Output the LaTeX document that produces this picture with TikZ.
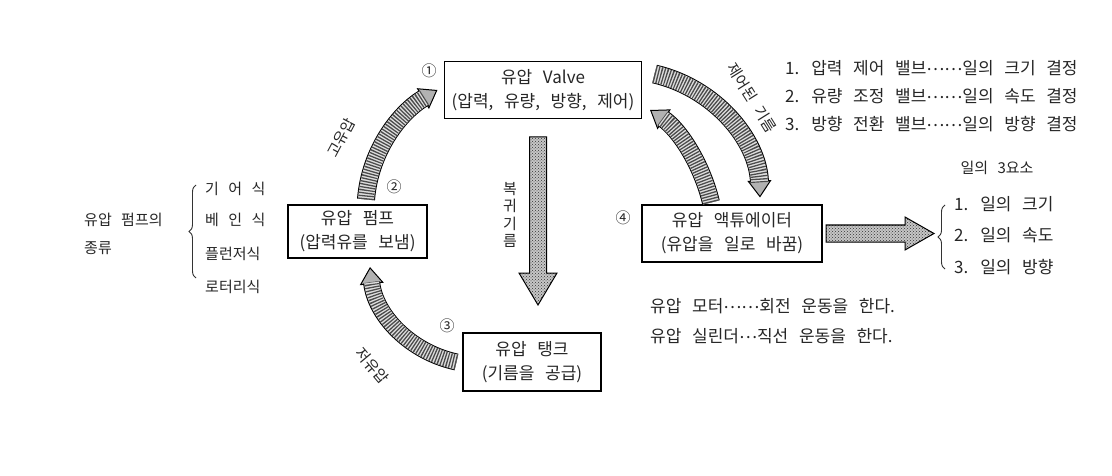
\documentclass[tikz,border=0pt]{standalone}
\usepackage{fontspec}
\newfontfamily\kr[WordSpace=2.8]{Noto Sans CJK KR}
\usetikzlibrary{arrows.meta,patterns,decorations.pathreplacing}

\newcommand\hatcharrow[3]{%
  \draw[line width=0.6pt, -{Triangle[length=17pt,width=#2pt,fill=gray!60,line width=1pt]}] #3;
  \draw[line width=#1pt+2pt, shorten >=15.5pt] #3;
  \draw[line width=#1pt, gray!25, shorten >=15pt] #3;
  \draw[line width=#1pt, black!70, dash pattern=on 1.3pt off 1.5pt, shorten >=15pt] #3;
}
\newcommand\mdots[1]{\raisebox{4pt}{#1}}

\begin{document}
\begin{tikzpicture}[x=1pt,y=-1pt,
  every node/.style={font=\kr\fontsize{15}{18}\selectfont, text=black!85, inner sep=0pt},
  big/.style={font=\kr\fontsize{17}{18}\selectfont},
  box/.style={draw=black, line width=1.1pt, align=center, font=\kr\fontsize{17}{24}\selectfont},
  lab/.style={anchor=west},
  brc/.style={decorate, decoration={brace, amplitude=7pt}, line width=0.9pt, black!80},
  blockarrow/.style={draw=black, line width=1pt, preaction={fill=gray!45}, pattern=crosshatch dots, pattern color=black!80}]

\path[fill=white] (0,0) rectangle (1112,476);
\useasboundingbox (0,0) rectangle (1112,476);

% boxes
\node[box, minimum width=197pt, minimum height=57pt] (valve) at (543,90) {유압 Valve\\(압력, 유량, 방향, 제어)};
\node[box, minimum width=139pt, minimum height=53pt] (pump) at (357.5,231.5) {유압 펌프\\(압력유를 보냄)};
\node[box, minimum width=138pt, minimum height=58pt] (tank) at (532,362) {유압 탱크\\(기름을 공급)};
\node[box, minimum width=180pt, minimum height=57pt] (act) at (732,233.5) {유압 액튜에이터\\(유압을 일로 바꿈)};

% circled numbers
\node (n1) at (429,71) {①};
\node (n2) at (394,187) {②};
\node (n3) at (447,326) {③};
\node (n4) at (623,218) {④};

% curved hatched arrows
\hatcharrow{16}{24}{([xshift=8.5pt,yshift=5pt]pump.north) .. controls (370,150) and (400,112) .. ([xshift=-6.5pt]valve.west)}
\hatcharrow{15}{24}{([xshift=-6pt]tank.west) .. controls (410,352) and (375,315) .. ([xshift=12.5pt,yshift=-8.5pt]pump.south)}
\hatcharrow{17}{24}{([xshift=12.5pt,yshift=16pt]valve.east) .. controls (715,88) and (758,140) .. ([xshift=28pt,yshift=7pt]act.north)}
\hatcharrow{16}{24}{([xshift=-21pt,yshift=2pt]act.north) .. controls (702,165) and (680,130) .. ([xshift=8pt,yshift=-20pt]valve.east)}

% arrow labels
\node[rotate=62] (lhi) at (341,138) {고유압};
\node[rotate=-50] (llo) at (372,366) {저유압};
\node[rotate=-58] (lctl) at (752,98) {제어된 기름};
\node[align=center, font=\kr\fontsize{15}{17.5}\selectfont] (lret) at (510,215) {복\\귀\\기\\름};

% straight block arrows
\draw[blockarrow] (529.5,137) -- (546.5,137) -- (546.5,273) -- (557,273) -- (538,305) -- (519,273) -- (529.5,273) -- cycle;
\draw[blockarrow] (826,225) -- (905,225) -- (905,217) -- (934,233.5) -- (905,250) -- (905,242) -- (826,242) -- cycle;

% left group
\node[lab] (pk1) at (84,220) {유압 펌프의};
\node[lab] (pk2) at (84,248) {종류};
\draw[brc] (196,278) -- (196,185);
\node[lab] (t1) at (205,189) {기 어 식};
\node[lab] (t2) at (205,220) {베 인 식};
\node[lab] (t3) at (205,254) {플런저식};
\node[lab] (t4) at (205,287) {로터리식};

% top right list
\node[lab, big] (v1) at (785,68) {1. 압력 제어 밸브\mdots{……}일의 크기 결정};
\node[lab, big] (v2) at (785,96) {2. 유량 조정 밸브\mdots{……}일의 속도 결정};
\node[lab, big] (v3) at (785,124) {3. 방향 전환 밸브\mdots{……}일의 방향 결정};

% right group
\node (w0) at (997,168) {일의 3요소};
\draw[brc] (945,269) -- (945,205);
\node[lab, big] (w1) at (954,204) {1. 일의 크기};
\node[lab, big] (w2) at (954,235) {2. 일의 속도};
\node[lab, big] (w3) at (954,267) {3. 일의 방향};

% bottom notes
\node[lab, big] (m1) at (650,306) {유압 모터\mdots{……}회전 운동을 한다.};
\node[lab, big] (m2) at (650,336) {유압 실린더\mdots{…}직선 운동을 한다.};
\end{tikzpicture}
\end{document}
